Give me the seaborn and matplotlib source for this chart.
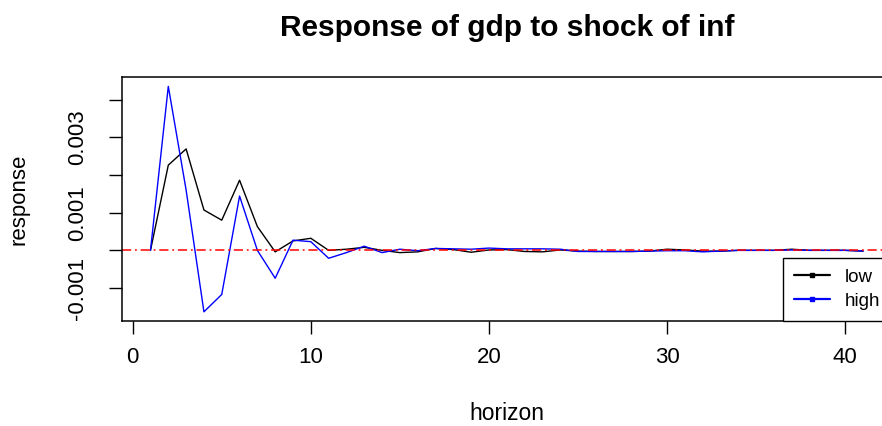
import numpy as np
import pandas as pd
import matplotlib
matplotlib.use("Agg")
import matplotlib.pyplot as plt
from matplotlib.lines import Line2D
import seaborn as sns

horizon = list(range(1, 42))
low = [0, 0.00226, 0.00269, 0.00107, 0.00080, 0.00186, 0.00063, -0.00004, 0.00025, 0.00032,
       0.00000, 0.00003, 0.00008, 0.00000, -0.00006, -0.00004, 0.00005, 0.00002, -0.00005, 0.00001,
       0.00002, -0.00003, -0.00004, 0.00001, -0.00002, -0.00003, -0.00003, -0.00003, -0.00002, 0.00003,
       0.00001, -0.00002, -0.00002, 0.00000, 0.00000, 0.00000, 0.00003, 0.00000, 0.00000, 0.00000,
       -0.00002]
high = [0, 0.00435, 0.00160, -0.00163, -0.00117, 0.00144, 0.00000, -0.00074, 0.00027, 0.00023,
        -0.00021, -0.00006, 0.00011, -0.00006, 0.00003, -0.00001, 0.00005, 0.00004, 0.00003, 0.00006,
        0.00004, 0.00004, 0.00004, 0.00003, -0.00003, -0.00003, -0.00003, -0.00003, -0.00002, -0.00001,
        -0.00001, -0.00004, -0.00002, 0.00000, 0.00000, 0.00000, 0.00001, 0.00000, 0.00000, 0.00000,
        -0.00002]
series_names = ["low", "high"]
series_colors = ["black", "blue"]
x_ticks = [0, 10, 20, 30, 40]
y_ticks = [-0.001, 0.0, 0.001, 0.002, 0.003, 0.004]
y_tick_labels = ["-0.001", "", "0.001", "", "0.003", ""]
title = "Response of gdp to shock of inf"

sns.set_style("ticks")
plt.rcParams["font.family"] = ["Liberation Sans", "DejaVu Sans"]
plt.rcParams["text.color"] = "black"
plt.rcParams["axes.labelcolor"] = "black"

df = pd.DataFrame({
    "horizon": horizon * 2,
    "response": low + high,
    "regime": ["low"] * len(low) + ["high"] * len(high),
})

fig = plt.figure(figsize=(8.82, 4.26), dpi=100)
ax = fig.add_axes([0.1383, 0.2469, 0.8726, 0.5716])

sns.lineplot(data=df, x="horizon", y="response", hue="regime",
             hue_order=series_names, palette=dict(zip(series_names, series_colors)),
             linewidth=1.0, ax=ax, legend=False, estimator=None, sort=True)
ax.axhline(0, color="red", linestyle=(0, (6, 2.5, 1.2, 2.5)), linewidth=1.1)

# R-style 4% padding
xmin, xmax = min(horizon), max(horizon)
xr = xmax - xmin
ax.set_xlim(xmin - 0.04 * xr, xmax + 0.04 * xr)
allv = low + high
ymin, ymax = min(allv), max(allv)
yr = ymax - ymin
ax.set_ylim(ymin - 0.04 * yr, ymax + 0.04 * yr)

ax.set_xticks(x_ticks)
ax.set_xticklabels([str(t) for t in x_ticks])
ax.set_yticks(y_ticks)
ax.set_yticklabels(y_tick_labels, rotation=90, va="center")

ax.tick_params(axis="both", direction="out", length=9.5, width=1.0, color="black",
               labelsize=16, labelcolor="black")
ax.tick_params(axis="x", pad=9)
ax.tick_params(axis="y", pad=15)

for s in ax.spines.values():
    s.set_visible(True)
    s.set_color("black")
    s.set_linewidth(1.1)

ax.set_xlabel("horizon", fontsize=16.5, labelpad=25)
ax.set_ylabel("response", fontsize=16, labelpad=27)
ax.set_title(title, fontsize=21.5, fontweight="bold", pad=30, color="black")

handles = [Line2D([0], [0], color=c, linewidth=1.6, marker="s", markersize=3.5)
           for c in series_colors]
leg = ax.legend(handles, series_names, loc="lower right", borderaxespad=0,
                fontsize=13.5, frameon=True, fancybox=False, handlelength=1.9,
                handletextpad=0.8, borderpad=0.6, labelspacing=0.35)
leg.get_frame().set_edgecolor("black")
leg.get_frame().set_linewidth(1.0)
leg.get_frame().set_alpha(1)
for t in leg.get_texts():
    t.set_color("black")

fig.savefig("out.png", dpi=100)
